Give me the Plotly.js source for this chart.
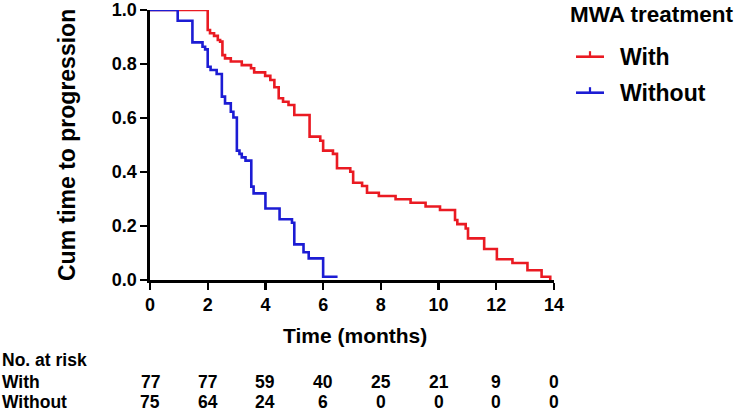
<!DOCTYPE html>
<html>
<head>
<meta charset="utf-8">
<script src="https://cdn.plot.ly/plotly-3.0.1.min.js"></script>
<style>html,body{margin:0;padding:0;background:#fff;}#chart{width:735px;height:413px;}</style>
</head>
<body>
<div id="chart"></div>
<script>
// Kaplan-Meier step data (time in months, cumulative proportion)
const withTimes = [0, 2.0, 2.08, 2.22, 2.35, 2.43, 2.51, 2.6, 2.8, 3.18, 3.5, 3.61, 3.99, 4.17, 4.31, 4.46, 4.61, 4.8, 5.0, 5.53, 5.9, 6.0, 6.34, 6.48, 6.94, 7.04, 7.35, 7.52, 7.93, 8.51, 9.03, 9.55, 10.05, 10.57, 10.65, 10.94, 11.02, 11.58, 12.02, 12.56, 13.08, 13.57, 13.87];
const withSurv  = [1, 0.926, 0.914, 0.904, 0.889, 0.883, 0.833, 0.821, 0.809, 0.796, 0.784, 0.769, 0.756, 0.741, 0.714, 0.673, 0.660, 0.648, 0.611, 0.531, 0.516, 0.479, 0.467, 0.414, 0.401, 0.360, 0.348, 0.323, 0.311, 0.299, 0.286, 0.272, 0.259, 0.222, 0.207, 0.191, 0.154, 0.115, 0.077, 0.063, 0.036, 0.012, 0];
const withoutTimes = [0, 0.96, 1.47, 1.82, 1.91, 2.0, 2.1, 2.31, 2.49, 2.6, 2.8, 2.89, 3.01, 3.1, 3.18, 3.31, 3.51, 3.59, 4.0, 4.49, 4.92, 5.0, 5.32, 5.5, 6.0, 6.5];
const withoutSurv  = [1, 0.96, 0.88, 0.864, 0.854, 0.79, 0.778, 0.763, 0.679, 0.654, 0.623, 0.602, 0.479, 0.467, 0.454, 0.442, 0.346, 0.321, 0.265, 0.225, 0.212, 0.132, 0.103, 0.080, 0.012, 0.012];

// Number-at-risk table
const riskTimes = [0, 2, 4, 6, 8, 10, 12, 14];
const riskWith = [77, 77, 59, 40, 25, 21, 9, 0];
const riskWithout = [75, 64, 24, 6, 0, 0, 0, 0];
const seriesNames = ["With", "Without"];
const legendTitle = "MWA treatment";
const xTitle = "Time (months)";
const yTitle = "Cum time to progression";

const RED = "#EA1A22";
const BLUE = "#1C1CD4";
const FONT = "Liberation Sans, Arial, sans-serif";

const traces = [
  {x: withTimes, y: withSurv, type: "scatter", mode: "lines", line: {shape: "hv", color: RED, width: 2.6}, name: seriesNames[0], showlegend: false, cliponaxis: false},
  {x: withoutTimes, y: withoutSurv, type: "scatter", mode: "lines", line: {shape: "hv", color: BLUE, width: 2.6}, name: seriesNames[1], showlegend: false, cliponaxis: false}
];

// pixel helpers for paper coords (plot area: x 150..554, y 10..280)
const L = 150, R = 181, T = 10, B = 133, W = 735 - L - R, H = 413 - T - B;
const px = v => (v - L) / W;
const py = v => (280 - v) / H;

const ann = [];
const bold = (size) => ({family: FONT, size: size, color: "#000", weight: "bold"});
const A = (o) => Object.assign({xref: "paper", yref: "paper", showarrow: false, borderpad: 0, yanchor: "middle"}, o);
const TF = 17.5;
ann.push(A({text: "<b>" + yTitle + "</b>", x: px(67), y: py(145), textangle: -90, xanchor: "center", font: bold(23)}));
ann.push(A({text: "<b>" + xTitle + "</b>", x: px(355), y: py(335), xanchor: "center", font: bold(21)}));
ann.push(A({text: "<b>No. at risk</b>", x: px(1), y: py(360), xanchor: "left", font: bold(TF)}));
ann.push(A({text: "<b>" + seriesNames[0] + "</b>", x: px(1), y: py(382), xanchor: "left", font: bold(TF)}));
ann.push(A({text: "<b>" + seriesNames[1] + "</b>", x: px(1), y: py(402), xanchor: "left", font: bold(TF)}));
riskTimes.forEach((t, i) => {
  ann.push(A({text: "<b>" + riskWith[i] + "</b>", xref: "x", x: t, y: py(382), xanchor: "center", font: bold(TF)}));
  ann.push(A({text: "<b>" + riskWithout[i] + "</b>", xref: "x", x: t, y: py(402), xanchor: "center", font: bold(TF)}));
});
// legend
ann.push(A({text: "<b>" + legendTitle + "</b>", x: px(569), y: py(15), xanchor: "left", font: bold(22.5)}));
ann.push(A({text: "<b>" + seriesNames[0] + "</b>", x: px(619), y: py(57), xanchor: "left", font: bold(23)}));
ann.push(A({text: "<b>" + seriesNames[1] + "</b>", x: px(619), y: py(93), xanchor: "left", font: bold(23)}));

const shapes = [];
[[RED, 56.7], [BLUE, 92.7]].forEach(([c, yy]) => {
  shapes.push({type: "line", xref: "paper", yref: "paper", x0: px(576), x1: px(604), y0: py(yy), y1: py(yy), line: {color: c, width: 2.6}});
  shapes.push({type: "line", xref: "paper", yref: "paper", x0: px(590), x1: px(590), y0: py(yy), y1: py(yy - 5.5), line: {color: c, width: 2.2}});
});

const layout = {
  width: 735, height: 413,
  margin: {l: L, r: R, t: T, b: B, pad: 0},
  paper_bgcolor: "#fff", plot_bgcolor: "#fff",
  showlegend: false,
  font: {family: FONT, color: "#000"},
  xaxis: {
    range: [0, 14], tickvals: riskTimes, ticktext: riskTimes.map(String),
    showgrid: false, zeroline: false, showline: true, linecolor: "#000", linewidth: 2.6,
    ticks: "outside", ticklen: 7, tickwidth: 2.4, tickcolor: "#000",
    tickfont: {family: FONT, size: 18, color: "#000", weight: "bold"}, fixedrange: true
  },
  yaxis: {
    range: [0, 1], tickvals: [0, 0.2, 0.4, 0.6, 0.8, 1.0], tickformat: ".1f",
    showgrid: false, zeroline: false, showline: true, linecolor: "#000", linewidth: 2.6,
    ticks: "outside", ticklen: 7, tickwidth: 2.4, tickcolor: "#000",
    tickfont: {family: FONT, size: 18, color: "#000", weight: "bold"}, fixedrange: true
  },
  annotations: ann,
  shapes: shapes
};

Plotly.newPlot("chart", traces, layout, {displayModeBar: false, staticPlot: true});
</script>
</body>
</html>
